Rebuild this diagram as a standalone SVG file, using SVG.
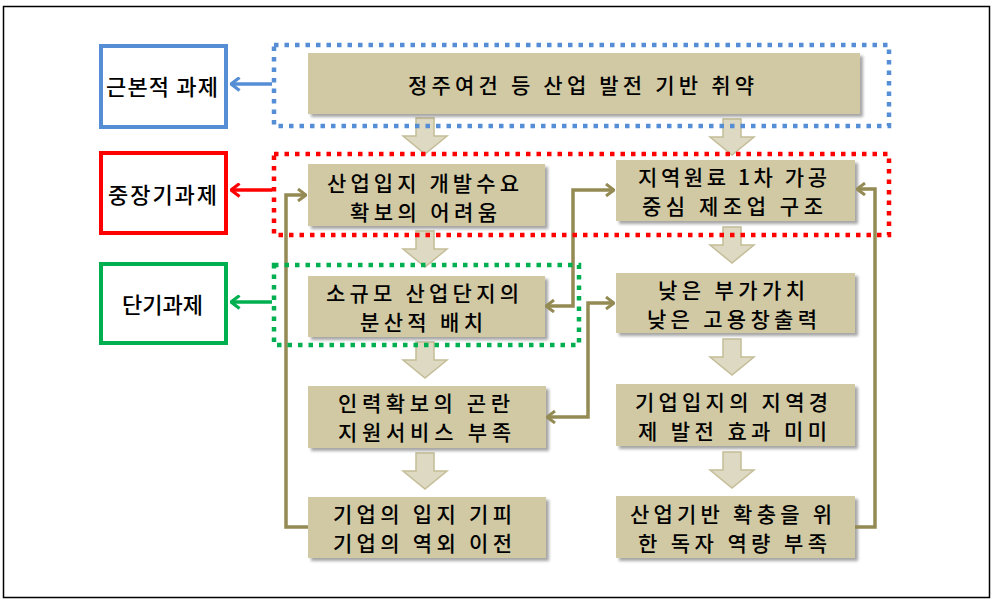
<svg xmlns="http://www.w3.org/2000/svg" xmlns:xlink="http://www.w3.org/1999/xlink" width="997" height="605" viewBox="0 0 997 605">
<style>
.t{font-family:"Noto Sans CJK KR","Noto Sans",sans-serif;font-size:21px;font-weight:500;fill:#000;text-anchor:middle;dominant-baseline:central}
.lt{font-size:22px}
.node{fill:#D0C9A3;filter:url(#sh)}
.conn{fill:none;stroke:#948A54;stroke-width:3.5;stroke-linejoin:miter}
.barrow{fill:#DDD9C3;stroke:#C4BD97;stroke-width:1.5}
.dot{fill:none;stroke-width:4.5;stroke-dasharray:4.5 6}
.lab{fill:#fff;stroke-width:4}
</style>
<defs>
<filter id="sh" x="-5%" y="-10%" width="115%" height="130%">
<feDropShadow dx="3" dy="3" stdDeviation="1.8" flood-color="#000" flood-opacity="0.35"/>
</filter>
<path id="darrow" d="M-9,0 H9 V18 H22 L0,36 L-22,18 H-9 Z"/>
<marker id="mo" viewBox="0 0 10 14" refX="9" refY="7" markerWidth="10" markerHeight="14" markerUnits="userSpaceOnUse" orient="auto-start-reverse">
<path d="M1,1 L9,7 L1,13" fill="none" stroke="#948A54" stroke-width="3"/>
</marker>
<marker id="mb" viewBox="0 0 10 14" refX="9" refY="7" markerWidth="11" markerHeight="15" markerUnits="userSpaceOnUse" orient="auto">
<path d="M1,1 L9,7 L1,13" fill="none" stroke="#558ED5" stroke-width="3"/>
</marker>
<marker id="mr" viewBox="0 0 10 14" refX="9" refY="7" markerWidth="11" markerHeight="15" markerUnits="userSpaceOnUse" orient="auto">
<path d="M1,1 L9,7 L1,13" fill="none" stroke="#FF0000" stroke-width="3"/>
</marker>
<marker id="mg" viewBox="0 0 10 14" refX="9" refY="7" markerWidth="11" markerHeight="15" markerUnits="userSpaceOnUse" orient="auto">
<path d="M1,1 L9,7 L1,13" fill="none" stroke="#00B050" stroke-width="3"/>
</marker>
</defs>

<rect x="3.5" y="6.5" width="986" height="591" fill="#fff" stroke="#000" stroke-width="1.5"/>

<g id="block-arrows" class="barrow">
<use href="#darrow" x="425" y="118"/>
<use href="#darrow" x="732" y="119"/>
<use href="#darrow" x="425" y="231"/>
<use href="#darrow" x="732" y="227"/>
<use href="#darrow" x="425" y="342"/>
<use href="#darrow" x="732" y="339"/>
<use href="#darrow" x="425" y="453"/>
<use href="#darrow" x="732" y="452"/>
</g>

<g id="n-top">
<rect class="node" x="308" y="53" width="552" height="61"/>
<text class="t" x="581" y="84" textLength="346" lengthAdjust="spacing">정주여건 등 산업 발전 기반 취약</text>
</g>
<g id="n-l1">
<rect class="node" x="308" y="164" width="237" height="62"/>
<text class="t" x="423" y="182" textLength="192" lengthAdjust="spacing">산업입지 개발수요</text>
<text class="t" x="423.5" y="211" textLength="147" lengthAdjust="spacing">확보의 어려움</text>
</g>
<g id="n-l2">
<rect class="node" x="308" y="276" width="237" height="61"/>
<text class="t" x="422.5" y="292" textLength="193" lengthAdjust="spacing">소규모 산업단지의</text>
<text class="t" x="421.5" y="321" textLength="123" lengthAdjust="spacing">분산적 배치</text>
</g>
<g id="n-l3">
<rect class="node" x="308" y="386" width="238" height="62"/>
<text class="t" x="424" y="402" textLength="172" lengthAdjust="spacing">인력확보의 곤란</text>
<text class="t" x="424.5" y="431" textLength="173" lengthAdjust="spacing">지원서비스 부족</text>
</g>
<g id="n-l4">
<rect class="node" x="308" y="497" width="238" height="61"/>
<text class="t" x="422.5" y="513" textLength="179" lengthAdjust="spacing">기업의 입지 기피</text>
<text class="t" x="422.5" y="542" textLength="179" lengthAdjust="spacing">기업의 역외 이전</text>
</g>
<g id="n-r1">
<rect class="node" x="616" y="160" width="239" height="61"/>
<text class="t" x="732.5" y="176" textLength="189" lengthAdjust="spacing">지역원료 1차 가공</text>
<text class="t" x="732.5" y="205" textLength="181" lengthAdjust="spacing">중심 제조업 구조</text>
</g>
<g id="n-r2">
<rect class="node" x="616" y="273" width="239" height="60"/>
<text class="t" x="731.5" y="288.5" textLength="147" lengthAdjust="spacing">낮은 부가가치</text>
<text class="t" x="732" y="317.5" textLength="170" lengthAdjust="spacing">낮은 고용창출력</text>
</g>
<g id="n-r3">
<rect class="node" x="616" y="384" width="239" height="62"/>
<text class="t" x="731.5" y="401" textLength="193" lengthAdjust="spacing">기업입지의 지역경</text>
<text class="t" x="732.5" y="430" textLength="189" lengthAdjust="spacing">제 발전 효과 미미</text>
</g>
<g id="n-r4">
<rect class="node" x="616" y="496" width="239" height="62"/>
<text class="t" x="731" y="513" textLength="202" lengthAdjust="spacing">산업기반 확충을 위</text>
<text class="t" x="732.5" y="542" textLength="189" lengthAdjust="spacing">한 독자 역량 부족</text>
</g>

<g id="connectors">
<path class="conn" d="M308,527 H286 V195 H306" marker-end="url(#mo)"/>
<path class="conn" d="M546,306 H573 V190 H614" marker-start="url(#mo)" marker-end="url(#mo)"/>
<path class="conn" d="M547,417 H588 V303 H614" marker-start="url(#mo)" marker-end="url(#mo)"/>
<path class="conn" d="M855,527 H875 V189 H857" marker-end="url(#mo)"/>
<path d="M272,84 H231" fill="none" stroke="#558ED5" stroke-width="3.5" marker-end="url(#mb)"/>
<path d="M272,190 H231" fill="none" stroke="#FF0000" stroke-width="3.5" marker-end="url(#mr)"/>
<path d="M272,302 H231" fill="none" stroke="#00B050" stroke-width="3.5" marker-end="url(#mg)"/>
</g>

<g id="g-blue"><rect class="dot" x="274" y="45" width="615" height="81" stroke="#558ED5"/></g>
<g id="g-red"><rect class="dot" x="274" y="154" width="615" height="81" stroke="#FF0000"/></g>
<g id="g-green"><rect class="dot" x="274" y="265" width="305" height="80" stroke="#00B050"/></g>

<g id="lab-basic">
<rect class="lab" x="101" y="46" width="125" height="81" stroke="#558ED5"/>
<text class="t lt" x="162" y="85" textLength="112" lengthAdjust="spacing">근본적 과제</text>
</g>
<g id="lab-mid">
<rect class="lab" x="101" y="153" width="125" height="80" stroke="#FF0000"/>
<text class="t lt" x="162.5" y="193" textLength="109" lengthAdjust="spacing">중장기과제</text>
</g>
<g id="lab-short">
<rect class="lab" x="101" y="264" width="125" height="79" stroke="#00B050"/>
<text class="t lt" x="162.5" y="303">단기과제</text>
</g>
</svg>
